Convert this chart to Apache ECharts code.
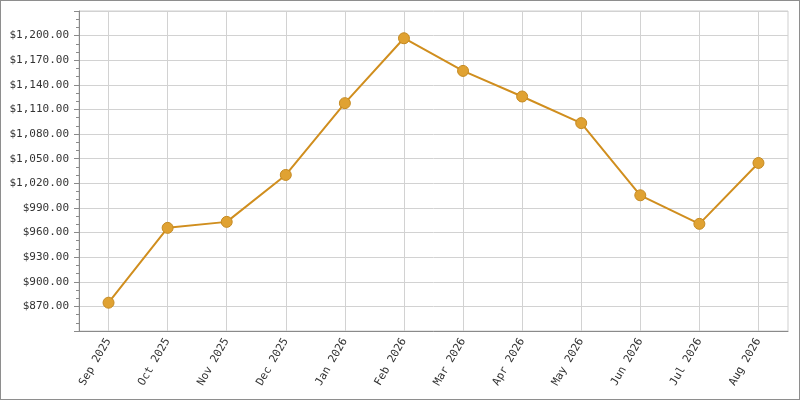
<!DOCTYPE html>
<html>
<head>
<meta charset="utf-8">
<script src="https://cdn.jsdelivr.net/npm/echarts@6/dist/echarts.min.js"></script>
<style>
html,body{margin:0;padding:0;background:#fff;}
#c{width:800px;height:400px;box-sizing:border-box;border:1px solid #8e8e8e;}
</style>
</head>
<body>
<div id="c"></div>
<script>
const categories = ["Sep 2025","Oct 2025","Nov 2025","Dec 2025","Jan 2026","Feb 2026","Mar 2026","Apr 2026","May 2026","Jun 2026","Jul 2026","Aug 2026"];
const values = [874.5, 965.7, 973, 1030.2, 1117.7, 1196.8, 1157, 1125.8, 1093.4, 1005.4, 970.6, 1044.8];
const yMin = 840, yMax = 1230, yStep = 30;

// helper axis of half-steps so vertical grid lines sit on category centres
const halfSteps = Array.from({length: categories.length * 2 + 1}, (_, i) => String(i));

const chart = echarts.init(document.getElementById('c'), null, {renderer:'canvas'});
const fmt = v => '$' + v.toLocaleString('en-US',{minimumFractionDigits:2, maximumFractionDigits:2});
chart.setOption({
  animation:false,
  grid:{left:78, top:10, right:11, bottom:68, show:true, borderColor:'#cfcfcf', borderWidth:1},
  xAxis:[{
    type:'category', data:categories, boundaryGap:true,
    axisLine:{lineStyle:{color:'#8a8a8a', width:1}},
    axisTick:{alignWithLabel:true, length:6, lineStyle:{color:'#8a8a8a'}},
    axisLabel:{rotate:60, color:'#333', fontFamily:'DejaVu Sans Mono', fontSize:11, margin:8, interval:0},
    splitLine:{show:false}
  },{
    type:'category', data:halfSteps, boundaryGap:false, position:'bottom',
    axisLine:{show:false}, axisTick:{show:false}, axisLabel:{show:false},
    splitLine:{show:true, interval:(i)=> i % 2 === 1, lineStyle:{color:'#d2d2d2'}}
  }],
  yAxis:{
    type:'value', min:yMin, max:yMax, interval:yStep,
    axisLine:{show:true, lineStyle:{color:'#8a8a8a', width:1}},
    axisTick:{show:true, length:5, lineStyle:{color:'#8a8a8a'}},
    minorTick:{show:true, splitNumber:3, length:3, lineStyle:{color:'#8a8a8a'}},
    axisLabel:{color:'#333', fontFamily:'DejaVu Sans Mono', fontSize:11, margin:10, showMinLabel:false, showMaxLabel:false, formatter:fmt},
    splitLine:{show:true, lineStyle:{color:'#d2d2d2'}}
  },
  series:[{
    type:'line', data:values, xAxisIndex:0,
    symbol:'circle', symbolSize:11,
    lineStyle:{color:'#d08e1e', width:2},
    itemStyle:{color:'#e0a232', borderColor:'#c58a22', borderWidth:1}
  }]
});
</script>
</body>
</html>
